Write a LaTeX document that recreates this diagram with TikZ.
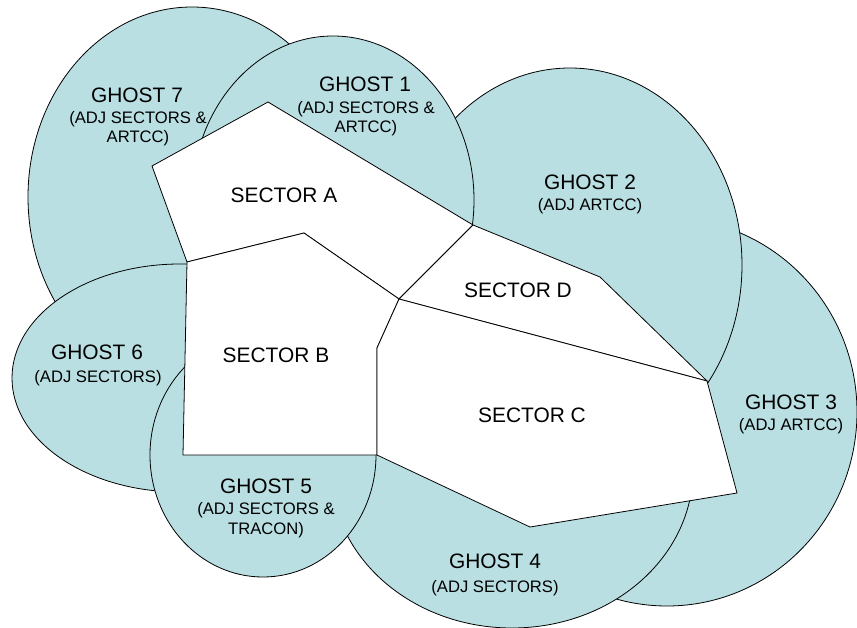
\documentclass[tikz,border=0pt]{standalone}
\usepackage{fontspec}
\setmainfont{Liberation Sans}
\usetikzlibrary{positioning}
\definecolor{ghostfill}{RGB}{185,223,226}

\begin{document}
\begin{tikzpicture}[x=1bp, y=-1bp,
			ghost/.style={draw=black, fill=ghostfill, line width=0.8pt},
			sector/.style={draw=black, fill=white, line width=0.8pt},
			title/.style={anchor=base, font=\fontsize{21}{24}\selectfont},
			note/.style={anchor=base, align=center, font=\fontsize{16.7}{20}\selectfont},
			]
			\useasboundingbox (0,0) rectangle (857,628);

			%Ghosts
				\draw[ghost] (192,197) ellipse [x radius=164, y radius=190];
				\draw[ghost] (667,412) ellipse [x radius=190, y radius=194];
				\draw[ghost] (570,265) ellipse [x radius=172, y radius=197];
				\draw[ghost] (333,200) ellipse [x radius=141, y radius=164];
				\draw[ghost] (512,470) ellipse [x radius=181, y radius=158];
				\draw[ghost] (180,378) ellipse [x radius=168, y radius=114];
				\draw[ghost] (263,455) ellipse [x radius=113, y radius=122];

			%Corners
				\coordinate (a1)	at (152,166);
				\coordinate (a2)	at (268,102);
				\coordinate (ad)	at (473,225);
				\coordinate (hub)	at (399,299);
				\coordinate (ab)	at (304,233);
				\coordinate (a3)	at (187,262);
				\coordinate (bc)	at (377,348);
				\coordinate (bc2)	at (377,455);
				\coordinate (b1)	at (183,455);
				\coordinate (d1)	at (600,277);
				\coordinate (cd)	at (707,381);
				\coordinate (c1)	at (737,493);
				\coordinate (c2)	at (530,527);

			%Sectors
				\draw[sector] (a1) -- (a2) -- (ad) -- (hub) -- (ab) -- (a3) -- cycle;
				\draw[sector] (a3) -- (ab) -- (hub) -- (bc) -- (bc2) -- (b1) -- cycle;
				\draw[sector] (hub) -- (ad) -- (d1) -- (cd) -- cycle;
				\draw[sector] (hub) -- (cd) -- (c1) -- (c2) -- (bc2) -- (bc) -- cycle;

			%Labels
				\node[title]	(ghost7)		at (137,103)	{GHOST 7};
				\node[note]		(ghost7-note)	at (138,143)	{(ADJ SECTORS \&\\ARTCC)};
				\node[title]	(ghost1)		at (365,92)		{GHOST 1};
				\node[note]		(ghost1-note)	at (366,133)	{(ADJ SECTORS \&\\ARTCC)};
				\node[title]	(ghost2)		at (590,190)	{GHOST 2};
				\node[note]		(ghost2-note)	at (590,211)	{(ADJ ARTCC)};
				\node[title]	(ghost3)		at (791,409)	{GHOST 3};
				\node[note]		(ghost3-note)	at (791,430)	{(ADJ ARTCC)};
				\node[title]	(ghost4)		at (495,568)	{GHOST 4};
				\node[note]		(ghost4-note)	at (495,592)	{(ADJ SECTORS)};
				\node[title]	(ghost5)		at (266,493)	{GHOST 5};
				\node[note]		(ghost5-note)	at (266,534)	{(ADJ SECTORS \&\\TRACON)};
				\node[title]	(ghost6)		at (97,359)		{GHOST 6};
				\node[note]		(ghost6-note)	at (98,382)		{(ADJ SECTORS)};
				\node[title]	(sector-a)		at (284,203)	{SECTOR A};
				\node[title]	(sector-b)		at (276,362)	{SECTOR B};
				\node[title]	(sector-c)		at (532,422)	{SECTOR C};
				\node[title]	(sector-d)		at (518,297)	{SECTOR D};
\end{tikzpicture}
\end{document}
